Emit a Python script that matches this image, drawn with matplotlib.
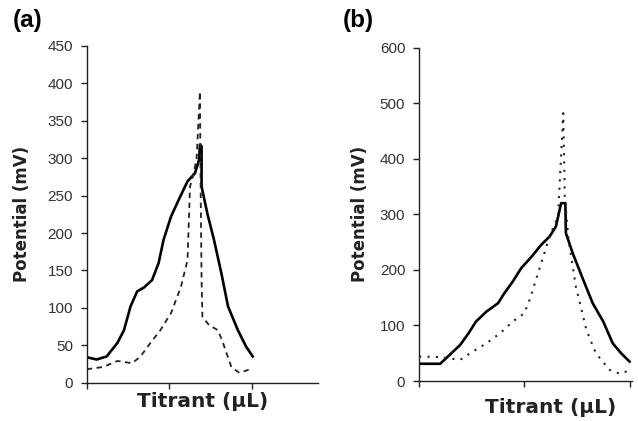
import matplotlib
matplotlib.use("Agg")
import matplotlib.pyplot as plt

# panel (a) - solid curve
a_solid_x = [0.0, 0.12, 0.24, 0.37, 0.45, 0.53, 0.61, 0.69, 0.79, 0.87, 0.93, 1.02, 1.12,
             1.22, 1.31, 1.36, 1.37, 1.39, 1.39, 1.46, 1.54, 1.63, 1.71, 1.83, 1.93, 2.01]
a_solid_y = [34, 31, 35, 53, 70, 102, 122, 127, 137, 160, 191, 222, 246,
             269, 280, 298, 318, 316, 262, 226, 191, 146, 102, 70, 48, 35]
# panel (a) - dashed curve
a_dash_x = [0.0, 0.2, 0.37, 0.55, 0.65, 0.77, 0.89, 1.02, 1.14, 1.22, 1.25, 1.29, 1.33,
            1.37, 1.38, 1.39, 1.40, 1.48, 1.59, 1.65, 1.75, 1.85, 1.95, 1.99]
a_dash_y = [18, 21, 29, 26, 35, 53, 70, 93, 128, 164, 262, 278, 300,
            389, 244, 137, 88, 77, 70, 53, 21, 13, 17, 16]

# panel (b) - solid curve
b_solid_x = [0.0, 0.2, 0.29, 0.39, 0.47, 0.54, 0.64, 0.75, 0.81, 0.89, 0.97, 1.07, 1.16,
             1.24, 1.30, 1.35, 1.39, 1.395, 1.46, 1.56, 1.65, 1.75, 1.84, 1.92, 2.0]
b_solid_y = [31, 31, 47, 65, 86, 107, 125, 140, 158, 179, 203, 224, 245,
             260, 278, 320, 320, 266, 230, 182, 140, 107, 68, 50, 35]
# panel (b) - dotted curve
b_dot_x = [0.0, 0.2, 0.39, 0.51, 0.64, 0.77, 0.89, 1.0, 1.05, 1.15, 1.24, 1.32,
           1.37, 1.385, 1.42, 1.49, 1.59, 1.68, 1.81, 1.91, 2.01]
b_dot_y = [44, 43, 38, 53, 68, 86, 107, 122, 146, 206, 260, 296,
           482, 330, 254, 170, 92, 50, 20, 13, 20]

x_ticks = [0, 1, 2]
a_yticks = list(range(0, 451, 50))
b_yticks = list(range(0, 601, 100))

tick_font = {'family': 'Liberation Sans', 'size': 11}
ylabel_font = {'family': 'DejaVu Sans', 'weight': 'bold', 'size': 12}
xlabel_font = {'family': 'DejaVu Sans', 'weight': 'bold', 'size': 14.5}

fig = plt.figure(figsize=(6.38, 4.21), dpi=100)
ax_a = fig.add_axes([0.136, 0.091, 0.3625, 0.80])
ax_b = fig.add_axes([0.657, 0.095, 0.333, 0.792])


def style_axes(ax, yticks, ylim, xlim):
    ax.set_xlim(*xlim)
    ax.set_ylim(*ylim)
    for s in ['top', 'right']:
        ax.spines[s].set_visible(False)
    for s in ['left', 'bottom']:
        ax.spines[s].set_linewidth(1.0)
        ax.spines[s].set_color('#222222')
    ax.set_xticks(x_ticks)
    ax.set_xticklabels([])
    ax.set_yticks(yticks)
    ax.set_yticklabels([str(v) for v in yticks], fontdict=tick_font, color='#333333')
    ax.tick_params(axis='both', direction='out', length=4, width=1.0, color='#222222')
    ax.tick_params(axis='y', pad=6)
    ax.set_ylabel('Potential (mV)', fontdict=ylabel_font, color='#222222')
    ax.set_xlabel('Titrant (µL)', fontdict=xlabel_font, color='#222222')


# (a)
ax_a.plot(a_solid_x, a_solid_y, color='black', lw=1.9)
ax_a.plot(a_dash_x, a_dash_y, color='#222222', lw=1.3, linestyle=(0, (3, 2.5)))
style_axes(ax_a, a_yticks, (0, 450), (0, 2.8))
ax_a.yaxis.set_label_coords(-0.241, 0.5)
ax_a.xaxis.set_label_coords(0.5, -0.027)

# (b)
ax_b.plot(b_solid_x, b_solid_y, color='black', lw=1.9)
ax_b.plot(b_dot_x, b_dot_y, color='#222222', lw=1.5, linestyle=(0, (1, 3)))
style_axes(ax_b, b_yticks, (0, 600), (0, 2.02))
ax_b.yaxis.set_label_coords(-0.234, 0.5)
ax_b.xaxis.set_label_coords(0.62, -0.051)

fig.text(0.02, 0.978, '(a)', fontsize=17.5, fontweight='bold', family='Liberation Sans', va='top')
fig.text(0.537, 0.978, '(b)', fontsize=17.5, fontweight='bold', family='Liberation Sans', va='top')

fig.savefig('out.png', dpi=100)
